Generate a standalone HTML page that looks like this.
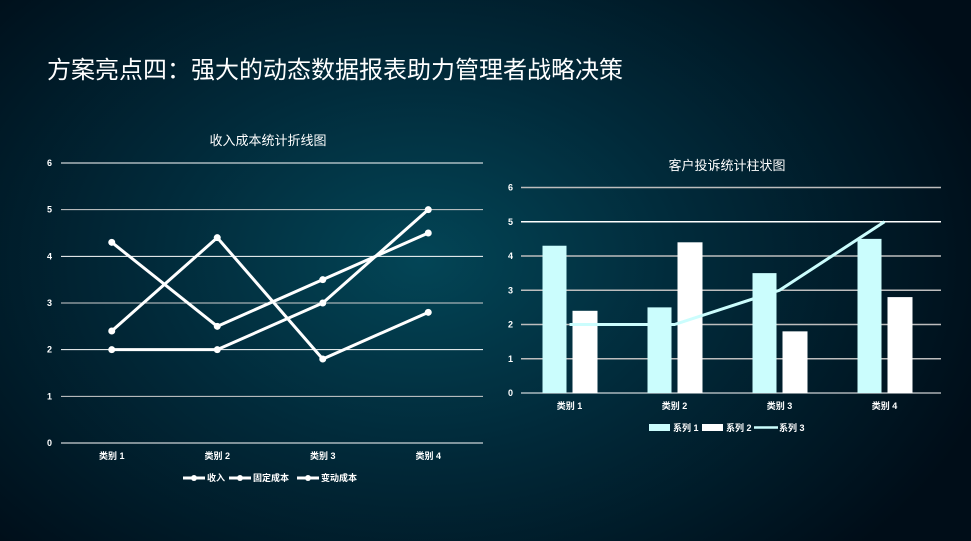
<!DOCTYPE html>
<html><head><meta charset="utf-8"><style>
html,body{margin:0;padding:0;width:971px;height:541px;overflow:hidden}
body{background:radial-gradient(ellipse 600px 420px at 420px 260px,#034556 0%,#012a3a 45%,#000d18 100%);font-family:"Liberation Sans","Noto Sans CJK SC",sans-serif}
svg text{font-family:"Liberation Sans","Noto Sans CJK SC",sans-serif;fill:#fff}
</style></head><body>
<svg id="s" width="971" height="541">
<text x="47" y="78" font-size="24">方案亮点四：强大的动态数据报表助力管理者战略决策</text>
<g id="left"></g>
<g id="right"></g>
</svg>
<script>
const categories=["类别 1","类别 2","类别 3","类别 4"];
const yTicks=[0,1,2,3,4,5,6];
const lineNames=["收入","固定成本","变动成本"];
const income=[4.3,2.5,3.5,4.5];
const fixedCost=[2.4,4.4,1.8,2.8];
const varCost=[2,2,3,5];
const barNames=["系列 1","系列 2","系列 3"];
const s1=[4.3,2.5,3.5,4.5];
const s2=[2.4,4.4,1.8,2.8];
const s3=[2,2,3,5];
const NS="http://www.w3.org/2000/svg";
function mk(p,t,a){const e=document.createElementNS(NS,t);for(const k in a)e.setAttribute(k,a[k]);p.appendChild(e);return e;}
// left chart
const L=document.getElementById('left');
const lx0=61,lx1=483,ly0=443,ly6=163;
const ly=v=>ly0-(ly0-ly6)*v/6;
const lxc=i=>lx0+(lx1-lx0)*(i+0.5)/categories.length-2;
let t=mk(L,'text',{x:268,y:145,'font-size':13,'text-anchor':'middle'});t.textContent="收入成本统计折线图";


yTicks.forEach(v=>{
 const g=mk(L,'line',{x1:lx0,x2:lx1,y1:ly(v),y2:ly(v),stroke:v%2?'#cfcfcf':'#fff','stroke-width':1});
 
 
 const tx=mk(L,'text',{x:52,y:ly(v)+3,'font-size':9,'font-weight':'bold','text-anchor':'end'});tx.textContent=v;
 
 
});
categories.forEach((c,i)=>{
 const tx=mk(L,'text',{x:lxc(i),y:459,'font-size':9,'font-weight':'bold','text-anchor':'middle'});tx.textContent=c;
 
 
});
[income,fixedCost,varCost].forEach((arr,si)=>{
 const p=mk(L,'polyline',{points:arr.map((v,i)=>lxc(i)+','+ly(v)).join(' '),fill:'none',stroke:'#fff','stroke-width':3});
 
 
 arr.forEach((v,i)=>{const c=mk(L,'circle',{cx:lxc(i),cy:ly(v),r:3.5,fill:'#fff'});
  
  });
});
const legX=[183,229,297];
lineNames.forEach((n,i)=>{
 const g=mk(L,'g',{});
 
 
 mk(g,'line',{x1:legX[i],x2:legX[i]+22,y1:478,y2:478,stroke:'#fff','stroke-width':3});
 mk(g,'circle',{cx:legX[i]+11,cy:478,r:3,fill:'#fff'});
 const tx=mk(g,'text',{x:legX[i]+24,y:481,'font-size':9,'font-weight':'bold'});tx.textContent=n;
});
// right chart
const R=document.getElementById('right');
const rx0=521,rx1=941,ry0=393,ry6=187.5;
const ry=v=>ry0-(ry0-ry6)*v/6;
const rxc=i=>rx0+(rx1-rx0)*(i+0.5)/categories.length-4;
t=mk(R,'text',{x:727,y:170,'font-size':13,'text-anchor':'middle'});t.textContent="客户投诉统计柱状图";


yTicks.forEach(v=>{
 const g=mk(R,'line',{x1:rx0,x2:rx1,y1:ry(v),y2:ry(v),stroke:(v==5||v==0)?'#fff':'#bdbdbd','stroke-width':v==0?1:1.5});
 
 
 const tx=mk(R,'text',{x:513,y:ry(v)+3,'font-size':9,'font-weight':'bold','text-anchor':'end'});tx.textContent=v;
 
 
});
categories.forEach((c,i)=>{
 const tx=mk(R,'text',{x:rxc(i),y:409,'font-size':9,'font-weight':'bold','text-anchor':'middle'});tx.textContent=c;
 
 
 const b1=mk(R,'rect',{x:rxc(i)-27,y:ry(s1[i]),width:24,height:ry0-ry(s1[i]),fill:'#cbfdfd'});
 
 
 const b2=mk(R,'rect',{x:rxc(i)+3,y:ry(s2[i]),width:25,height:ry0-ry(s2[i]),fill:'#fff'});
 
 
});
const l3=mk(R,'polyline',{points:s3.map((v,i)=>rxc(i)+','+ry(v)).join(' '),fill:'none',stroke:'#cbfdfd','stroke-width':3});


const bl=[[649,'rect','#cbfdfd'],[702,'rect','#fff'],[754,'line','#cbfdfd']];
barNames.forEach((n,i)=>{
 const g=mk(R,'g',{});
 
 
 const [x,k,col]=bl[i];
 if(k=='rect')mk(g,'rect',{x:x,y:424,width:21,height:7,fill:col});
 else mk(g,'line',{x1:x,x2:x+24,y1:427.5,y2:427.5,stroke:col,'stroke-width':2.5});
 const tx=mk(g,'text',{x:x+(k=='rect'?24:25),y:431,'font-size':9,'font-weight':'bold'});tx.textContent=n;
});
</script>
</body></html>
